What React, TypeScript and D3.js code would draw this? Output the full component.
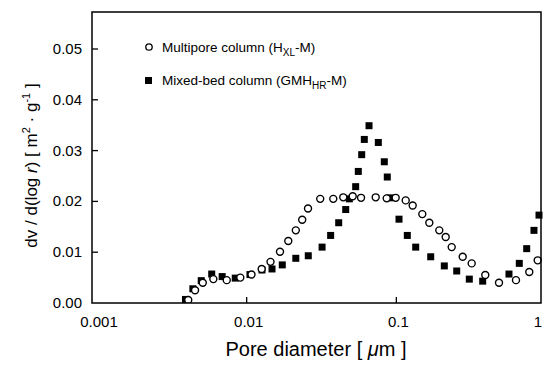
import React from "react";
import * as d3 from "d3";

// Multipore column (HXL-M): open circles
const multiporeX = [0.00407, 0.00452, 0.00509, 0.00599, 0.00736, 0.00907, 0.01077, 0.0126, 0.01443, 0.0167, 0.01897, 0.0213, 0.0235, 0.0257, 0.031, 0.0379, 0.0442, 0.0511, 0.0581, 0.0728, 0.0862, 0.099, 0.1155, 0.1286, 0.1491, 0.1661, 0.1936, 0.2137, 0.2344, 0.2776, 0.3188, 0.3929, 0.4853, 0.6302, 0.7732, 0.88];
const multiporeY = [0.0006, 0.0025, 0.004, 0.0047, 0.0045, 0.005, 0.0056, 0.0067, 0.0081, 0.0101, 0.0122, 0.0143, 0.0164, 0.0186, 0.0205, 0.0205, 0.0208, 0.021, 0.0207, 0.0208, 0.0206, 0.0207, 0.0202, 0.0192, 0.0175, 0.0158, 0.0143, 0.013, 0.011, 0.0091, 0.0078, 0.0055, 0.004, 0.0045, 0.0061, 0.0084];

// Mixed-bed column (GMHHR-M): filled squares
const mixedX = [0.0039, 0.00437, 0.00497, 0.00584, 0.00686, 0.00839, 0.01052, 0.01266, 0.01477, 0.0173, 0.0213, 0.0258, 0.0319, 0.0364, 0.0412, 0.0459, 0.0485, 0.0535, 0.0557, 0.0587, 0.0611, 0.0657, 0.0758, 0.0831, 0.087, 0.0907, 0.1042, 0.1184, 0.1347, 0.1697, 0.2092, 0.2532, 0.3073, 0.3776, 0.5657, 0.663, 0.743, 0.831, 0.898];
const mixedY = [0.0007, 0.0028, 0.0044, 0.0057, 0.0052, 0.0049, 0.0056, 0.0065, 0.0067, 0.0075, 0.0088, 0.0093, 0.011, 0.0133, 0.0158, 0.0184, 0.0205, 0.0229, 0.0259, 0.0292, 0.0322, 0.0349, 0.0316, 0.0278, 0.0248, 0.0207, 0.0165, 0.0133, 0.011, 0.0091, 0.0073, 0.0063, 0.0047, 0.0043, 0.0057, 0.0078, 0.0107, 0.0143, 0.0173];

const xTicks = [0.001, 0.01, 0.1, 1];
const xTickLabels = ["0.001", "0.01", "0.1", "1"];
const yTicks = [0, 0.01, 0.02, 0.03, 0.04, 0.05];
const yTickLabels = ["0.00", "0.01", "0.02", "0.03", "0.04", "0.05"];

const W = 543;
const H = 365;
const frame = { left: 92, right: 541, top: 12, bottom: 303 };
const FONT = "'Liberation Sans', Arial, Helvetica, sans-serif";

export default function App() {
  const x = d3.scaleLog().domain([0.001, 1]).range([97, 546]);
  const y = d3.scaleLinear().domain([0, 0.05]).range([303, 49]);

  const multi = multiporeX.map((v, i) => ({ x: v, y: multiporeY[i] }));
  const mixed = mixedX.map((v, i) => ({ x: v, y: mixedY[i] }));
  const sq = 7;

  return (
    <svg
      width={W}
      height={H}
      style={{ position: "absolute", left: 0, top: 0, background: "#fff" }}
      fontFamily={FONT}
    >
      <rect x={0} y={0} width={W} height={H} fill="#fff" />
      <defs>
        <clipPath id="plotclip">
          <rect x={frame.left} y={frame.top - 5} width={frame.right - frame.left + 3} height={frame.bottom - frame.top + 5} />
        </clipPath>
      </defs>

      {/* y ticks */}
      {yTicks.map((t, i) => (
        <g key={"yt" + i}>
          {t > 0 && (
            <line x1={frame.left} x2={frame.left + 6} y1={y(t)} y2={y(t)} stroke="#000" strokeWidth={1.3} />
          )}
          <text x={82} y={y(t) + 5} textAnchor="end" fontSize={15} fill="#000">
            {yTickLabels[i]}
          </text>
        </g>
      ))}

      {/* x ticks */}
      {xTicks.map((t, i) => {
        const last = i === xTicks.length - 1;
        return (
          <g key={"xt" + i}>
            {t > 0.001 && t < 1 && (
              <line x1={x(t)} x2={x(t)} y1={frame.bottom} y2={frame.bottom - 6} stroke="#000" strokeWidth={1.3} />
            )}
            <text
              x={last ? W - 1 : x(t) + 2}
              y={327}
              textAnchor={last ? "end" : "middle"}
              fontSize={15}
              fill="#000"
            >
              {xTickLabels[i]}
            </text>
          </g>
        );
      })}

      {/* markers */}
      <g clipPath="url(#plotclip)">
        {mixed.map((d, i) => (
          <rect key={"s" + i} x={x(d.x) - sq / 2} y={y(d.y) - sq / 2} width={sq} height={sq} fill="#000" />
        ))}
        {multi.map((d, i) => (
          <circle key={"c" + i} cx={x(d.x)} cy={y(d.y)} r={3.5} fill="#fff" stroke="#000" strokeWidth={1.4} />
        ))}
      </g>

      {/* frame */}
      <rect
        x={frame.left}
        y={frame.top}
        width={frame.right - frame.left}
        height={frame.bottom - frame.top}
        fill="none"
        stroke="#000"
        strokeWidth={1.5}
      />

      {/* legend */}
      <circle cx={149} cy={47} r={3.2} fill="#fff" stroke="#000" strokeWidth={1.3} />
      <text x={162} y={52} fontSize={13.5} fill="#000">
        Multipore column (H<tspan fontSize={10} dy={4}>XL</tspan>
        <tspan dy={-4}>-M)</tspan>
      </text>
      <rect x={145} y={77} width={7} height={7} fill="#000" />
      <text x={162} y={85} fontSize={13.5} fill="#000">
        Mixed-bed column (GMH<tspan fontSize={10} dy={4}>HR</tspan>
        <tspan dy={-4}>-M)</tspan>
      </text>

      {/* axis labels */}
      <text x={316} y={356} textAnchor="middle" fontSize={20} fill="#000">
        Pore diameter [ <tspan fontStyle="italic">μ</tspan>m ]
      </text>
      <text
        transform={`translate(37, ${(frame.top + frame.bottom) / 2 + 8}) rotate(-90)`}
        textAnchor="middle"
        fontSize={17}
        fill="#000"
      >
        dv / d(log <tspan fontStyle="italic">r</tspan>)  [ m<tspan fontSize={11} dy={-7}>2</tspan>
        <tspan dy={7}> · g</tspan>
        <tspan fontSize={11} dy={-7}>-1</tspan>
        <tspan dy={7}> ]</tspan>
      </text>
    </svg>
  );
}
